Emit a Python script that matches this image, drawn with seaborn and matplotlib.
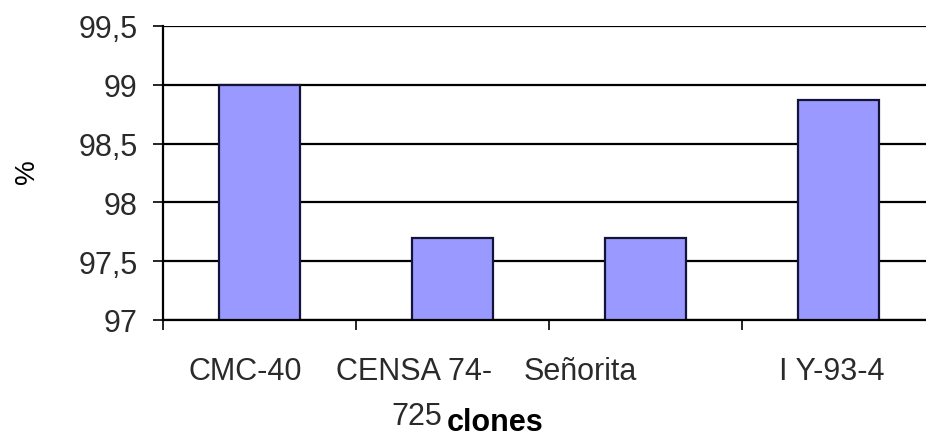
import matplotlib
matplotlib.use("Agg")
import matplotlib.pyplot as plt
import matplotlib.transforms as mtransforms
import seaborn as sns
import pandas as pd
from matplotlib.ticker import FuncFormatter, FixedLocator

categories = ["CMC-40", "CENSA 74-\n725", "Señorita", "I Y-93-4"]
values = [99.0, 97.7, 97.7, 98.87]
yticks = [97, 97.5, 98, 98.5, 99, 99.5]

sns.set_theme(style="white")
plt.rcParams['font.family'] = ['Liberation Sans', 'DejaVu Sans']

df = pd.DataFrame({"clon": categories, "pct": values})

fig = plt.figure(figsize=(9.26, 4.39), dpi=100)
ax = fig.add_axes([163/926, 1-321/439, (935-163)/926, (321-27)/439])

sns.barplot(data=df, x="clon", y="pct", color="#9999FF", saturation=1,
            width=0.415, edgecolor="#141438", linewidth=1.6, ax=ax)

ax.set_ylim(97, 99.5)
ax.set_xlim(-0.5, 3.5)
ax.set_yticks(yticks)
ax.yaxis.set_major_formatter(FuncFormatter(lambda v, p: (f"{v:g}").replace(".", ",")))
ax.set_axisbelow(True)
ax.yaxis.grid(True, color="black", linewidth=1.6)
ax.xaxis.grid(False)

for s in ["top", "right"]:
    ax.spines[s].set_visible(False)
for s in ["left", "bottom"]:
    ax.spines[s].set_color("black")
    ax.spines[s].set_linewidth(1.6)

label_color = "#2a2a2a"
ax.tick_params(axis="y", which="major", left=True, length=7.2, width=1.2,
               color="black", pad=11, labelsize=22, labelcolor=label_color)
ax.tick_params(axis="x", which="major", bottom=False, length=0, pad=26,
               labelsize=22, labelcolor=label_color)
ax.xaxis.set_minor_locator(FixedLocator([-0.5, 0.5, 1.5, 2.5, 3.5]))
ax.tick_params(axis="x", which="minor", bottom=True, length=7.5, width=1.2,
               color="black", direction="out")

# first line of each category name as tick label; wrapped remainder drawn below
first_lines = [c.split("\n")[0] for c in categories]
ax.set_xticks(range(len(categories)))
ax.set_xticklabels(first_lines)

# horizontal shifts of the category labels as they appear in the reference
label_shift_px = [-14, -38, -65, -7]
for lbl, dx in zip(ax.get_xticklabels(), label_shift_px):
    lbl.set_transform(lbl.get_transform() +
                      mtransforms.ScaledTranslation(dx / 100, 0, fig.dpi_scale_trans))

for i, (c, dx) in enumerate(zip(categories, label_shift_px)):
    parts = c.split("\n")
    if len(parts) > 1:
        ax.annotate(parts[1], xy=(i, 0), xycoords=("data", "axes fraction"),
                    xytext=((dx + 2) * 0.72, -58), textcoords="offset points",
                    ha="center", va="top", fontsize=22, color=label_color)

ax.set_xlabel("")
ax.set_ylabel("")
fig.text(495/926, 1-423/439, "clones", ha="center", va="center",
         fontsize=22, fontweight="bold", color="black")
fig.text(27/926, 1-172/439, "%", ha="center", va="center", rotation=90,
         fontsize=20, color="black")

fig.savefig("out.png", dpi=100)
